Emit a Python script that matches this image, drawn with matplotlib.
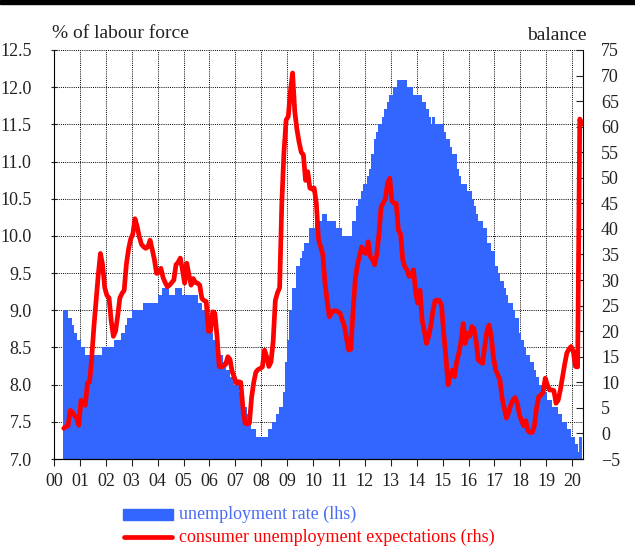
import matplotlib
matplotlib.use('Agg')
import matplotlib.pyplot as plt
import pandas as pd
from matplotlib.patches import Rectangle
from matplotlib.lines import Line2D

plt.rcParams['font.family'] = ['Liberation Serif', 'DejaVu Serif']

start = '2000-05'
# euro area unemployment rate, % of labour force (May 2000 - Apr 2020)
unemp = [
    9.0, 9.0, 8.9, 8.9, 8.8, 8.7, 8.6, 8.6,
    8.5, 8.5, 8.4, 8.4, 8.4, 8.4, 8.4, 8.4, 8.4, 8.4, 8.5, 8.5,
    8.5, 8.5, 8.5, 8.5, 8.6, 8.6, 8.6, 8.7, 8.7, 8.8, 8.9, 8.9,
    9.0, 9.0, 9.0, 9.0, 9.0, 9.1, 9.1, 9.1, 9.1, 9.1, 9.1, 9.1,
    9.2, 9.2, 9.3, 9.3, 9.3, 9.2, 9.2, 9.2, 9.3, 9.3, 9.3, 9.2,
    9.2, 9.2, 9.2, 9.2, 9.2, 9.2, 9.1, 9.1, 9.0, 9.0, 8.9, 8.8,
    8.7, 8.6, 8.6, 8.5, 8.4, 8.4, 8.3, 8.2, 8.2, 8.1, 8.1, 8.0,
    8.0, 7.9, 7.8, 7.7, 7.7, 7.6, 7.5, 7.4, 7.4, 7.3, 7.3, 7.3,
    7.3, 7.3, 7.3, 7.4, 7.4, 7.5, 7.5, 7.6, 7.7, 7.7, 7.9, 8.3,
    8.6, 9.0, 9.3, 9.3, 9.6, 9.6, 9.7, 9.8, 9.9, 9.9, 10.1, 10.1,
    10.1, 10.2, 10.2, 10.2, 10.3, 10.3, 10.2, 10.2, 10.2, 10.2, 10.1, 10.1,
    10.1, 10.0, 10.0, 10.0, 10.0, 10.0, 10.2, 10.2, 10.4, 10.5, 10.6, 10.7,
    10.7, 10.8, 10.9, 11.1, 11.3, 11.4, 11.5, 11.5, 11.6, 11.7, 11.8, 11.9,
    11.9, 12.0, 12.0, 12.1, 12.1, 12.1, 12.1, 12.0, 12.0, 12.0, 11.9, 11.9,
    11.9, 11.9, 11.8, 11.8, 11.7, 11.6, 11.5, 11.6, 11.5, 11.5, 11.5, 11.5,
    11.4, 11.3, 11.3, 11.2, 11.1, 11.1, 10.9, 10.8, 10.7, 10.7, 10.7, 10.6,
    10.6, 10.5, 10.4, 10.3, 10.2, 10.2, 10.1, 10.1, 9.9, 9.9, 9.8, 9.8,
    9.6, 9.5, 9.4, 9.4, 9.3, 9.2, 9.1, 9.1, 9.0, 8.9, 8.9, 8.7,
    8.6, 8.5, 8.4, 8.4, 8.3, 8.3, 8.2, 8.1, 8.0, 8.0, 8.0, 7.9,
    7.8, 7.8, 7.7, 7.7, 7.7, 7.6, 7.6, 7.5, 7.5, 7.4, 7.4, 7.3,
    7.3, 7.2, 7.1, 7.3,
]
# consumer unemployment expectations, balance (May 2000 - May 2020)
expect = [
    1.0, 1.3, 1.5, 4.5, 4.2, 3.5, 3.0, 1.6,
    6.5, 6.0, 5.5, 9.9, 10.1, 15.0, 21.0, 26.0, 31.0, 35.2, 33.0, 28.5,
    27.0, 26.5, 22.0, 19.0, 20.0, 23.0, 26.5, 27.4, 28.0, 33.0, 36.0, 38.0,
    39.0, 42.0, 40.5, 38.5, 37.0, 36.5, 36.2, 36.5, 37.8, 36.0, 34.0, 31.3,
    31.5, 32.3, 30.5, 29.5, 28.7, 29.0, 29.5, 30.0, 33.0, 33.5, 34.3, 32.0,
    29.4, 33.3, 31.0, 29.0, 30.3, 29.5, 29.4, 29.0, 26.4, 26.0, 25.8, 20.0,
    20.0, 23.8, 23.5, 19.0, 13.1, 13.0, 13.3, 13.5, 15.0, 14.5, 12.1, 11.0,
    9.8, 10.1, 10.0, 5.0, 2.0, 1.85, 2.0, 7.0, 10.0, 12.0, 12.5, 12.7,
    13.0, 16.3, 15.0, 13.1, 14.0, 18.0, 26.0, 27.5, 28.5, 45.0, 55.0, 61.3,
    62.0, 67.0, 70.5, 63.0, 59.5, 57.0, 55.0, 54.5, 49.5, 51.2, 48.0, 47.8,
    48.0, 45.0, 38.0, 36.5, 35.0, 29.4, 26.0, 22.8, 23.5, 24.0, 24.0, 23.8,
    23.5, 22.2, 21.0, 18.5, 16.3, 16.5, 24.0, 30.0, 33.0, 34.6, 36.5, 35.5,
    35.2, 37.5, 34.6, 34.0, 33.0, 35.0, 39.0, 44.4, 45.0, 46.0, 49.0, 49.9,
    45.5, 45.0, 45.0, 39.8, 39.0, 34.0, 32.6, 32.0, 30.7, 31.0, 32.0, 27.5,
    25.5, 28.0, 22.2, 20.0, 17.6, 19.0, 21.0, 24.0, 26.0, 26.1, 26.0, 25.0,
    19.5, 15.0, 9.5, 11.5, 12.4, 11.1, 14.0, 15.7, 18.0, 21.5, 17.6, 19.6,
    19.0, 20.9, 20.5, 18.0, 14.4, 14.0, 13.7, 17.0, 20.0, 21.2, 19.0, 15.0,
    12.5, 11.5, 10.5, 7.0, 5.0, 3.0, 4.0, 5.5, 6.5, 7.0, 6.0, 3.8,
    2.5, 1.5, 2.5, 0.5, 0.2, 0.2, 1.5, 5.0, 7.2, 7.5, 8.0, 10.8,
    9.5, 8.5, 8.5, 8.4, 5.9, 6.5, 8.5, 11.0, 13.5, 15.7, 16.5, 17.0,
    16.0, 13.1, 13.0, 61.5, 60.5,
]
year_ticks = list(range(2000, 2021))
year_labels = [f"{y % 100:02d}" for y in year_ticks]
lhs_ticks = [7.0 + 0.5 * i for i in range(12)]
rhs_ticks = list(range(-5, 80, 5))

BLUE = '#3366FF'
RED = '#FF0000'

mu = pd.date_range(start, periods=len(unemp), freq='MS')
me = pd.date_range(start, periods=len(expect), freq='MS')
xu = mu.year + (mu.month - 1) / 12
xe = me.year + (me.month - 0.5) / 12

W, H = 635, 546
fig = plt.figure(figsize=(W / 100, H / 100), dpi=100)
ax = fig.add_axes([54 / W, 87 / H, 529 / W, 409 / H])

ax.bar(xu, unemp, width=1 / 12, align='edge', color=BLUE, edgecolor=BLUE,
       linewidth=0.6, antialiased=False, zorder=2)
ax.set_xlim(2000, 2020 + 5 / 12)
ax.set_ylim(7.0, 12.5)
ax.set_xticks(year_ticks)
ax.set_xticklabels(year_labels)
ax.set_yticks(lhs_ticks)
ax.set_yticklabels([f"{v:.1f}" for v in lhs_ticks])
ax.set_axisbelow(True)
ax.grid(True, color='black', linestyle=(0, (1, 1.2)), linewidth=0.7)
for s in ['top', 'right']:
    ax.spines[s].set_visible(False)
ax.tick_params(axis='x', direction='out', length=5, width=0.8, pad=5,
               labelsize=13, colors='#222222')
ax.tick_params(axis='y', direction='inout', length=4, width=0.8, pad=14,
               labelsize=13, colors='#222222')

ax2 = ax.twinx()
ax2.plot(xe, expect, color=RED, lw=3.4, solid_joinstyle='round',
         solid_capstyle='round', zorder=3)
ax2.set_ylim(-5, 75)
ax2.set_yticks(rhs_ticks)
ax2.spines['top'].set_visible(False)
ax2.spines['left'].set_visible(False)
ax2.tick_params(axis='y', direction='in', length=5, width=0.8, pad=13,
                labelsize=13, colors='#222222')

fig.text(52 / W, 1 - 33 / H, '% of labour force', ha='left', va='center',
         fontsize=14, color='#222222')
fig.text(587 / W, 1 - 35 / H, 'balance', ha='right', va='center',
         fontsize=14, color='#222222')

fig.add_artist(Rectangle((0, 1 - 3.5 / H), 1, 3.5 / H, transform=fig.transFigure,
                         color='black'))

fig.add_artist(Rectangle((123 / W, 1 - 520 / H), 50 / W, 11 / H,
                         transform=fig.transFigure, color=BLUE))
fig.text(179 / W, 1 - 514 / H, 'unemployment rate (lhs)', ha='left',
         va='center', fontsize=13, color='#4A6CF7')
fig.add_artist(Line2D([124 / W, 172 / W], [1 - 537 / H, 1 - 537 / H],
                      transform=fig.transFigure, color=RED, lw=3.4,
                      solid_capstyle='round'))
fig.text(179 / W, 1 - 537 / H, 'consumer unemployment expectations (rhs)',
         ha='left', va='center', fontsize=13, color=RED)

fig.savefig('out.png', dpi=100)
